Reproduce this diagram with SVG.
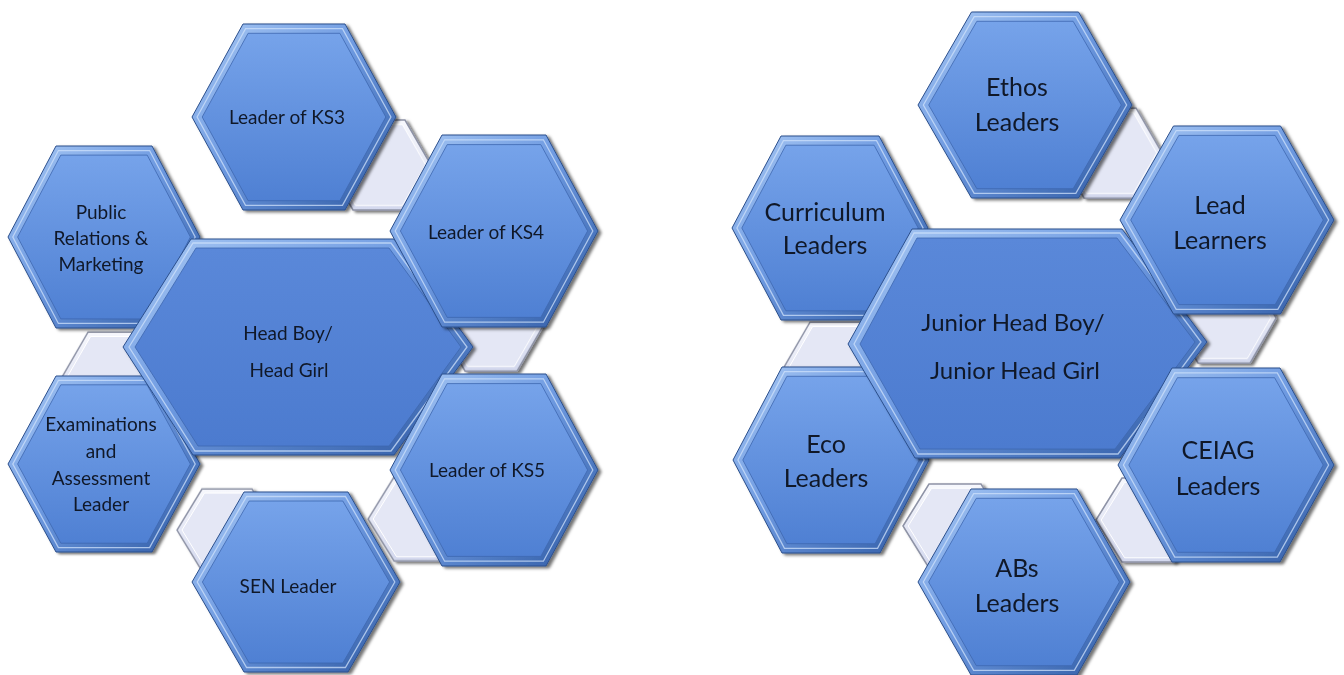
<svg xmlns="http://www.w3.org/2000/svg" xmlns:xlink="http://www.w3.org/1999/xlink" width="1344" height="675" viewBox="0 0 1344 675">
<defs>
  <linearGradient id="rimG" x1="0" y1="0" x2="1" y2="1">
    <stop offset="0" stop-color="#a9c9f4"/>
    <stop offset="0.45" stop-color="#6e9ae1"/>
    <stop offset="1" stop-color="#2f5aa3"/>
  </linearGradient>
  <linearGradient id="faceG" x1="0" y1="0" x2="0" y2="1">
    <stop offset="0" stop-color="#76a3ea"/>
    <stop offset="1" stop-color="#4f80d3"/>
  </linearGradient>
  <linearGradient id="centerG" x1="0" y1="0" x2="0" y2="1">
    <stop offset="0" stop-color="#5a88d9"/>
    <stop offset="1" stop-color="#4c7bcf"/>
  </linearGradient>
  <linearGradient id="connG" x1="0" y1="0" x2="0" y2="1">
    <stop offset="0" stop-color="#f7f8fd"/>
    <stop offset="1" stop-color="#d3d8ee"/>
  </linearGradient>
  <filter id="sh" x="-10%" y="-10%" width="130%" height="130%">
    <feDropShadow dx="3" dy="2" stdDeviation="1.5" flood-color="#000" flood-opacity="0.55"/>
  </filter>
  <polygon id="hx" points="-100,0 -50,-100 50,-100 100,0 50,100 -50,100" vector-effect="non-scaling-stroke"/>
  <polygon id="hxi" points="-90,0 -45,-90 45,-90 90,0 45,90 -45,90" vector-effect="non-scaling-stroke"/>
  <polygon id="hxh" points="-95,0 -47.5,-95 47.5,-95 95,0 47.5,95 -47.5,95" vector-effect="non-scaling-stroke"/>
  <style>
    .rim{fill:url(#rimG);stroke:#2b4f8c;stroke-width:1}
    .face{fill:url(#faceG);stroke:#3d67b0;stroke-width:0.8}
    .hl{fill:none;stroke:#cfe2fb;stroke-width:1.3;stroke-opacity:0.75}
    .cface{fill:url(#centerG);stroke:#3d67b0;stroke-width:0.8}
    .shadow{filter:url(#sh)}
    .conn{fill:url(#connG);stroke:#8e93a6;stroke-width:1.5}
    .connIn{fill:#e4e7f5;stroke:#ffffff;stroke-width:1}
    text{font-family:Lato,"Liberation Sans",Arial,sans-serif;fill:#101828;text-anchor:middle}
    .s{font-size:19px}
    .l{font-size:25px}
    .c{font-size:24px}
  </style>
</defs>
<rect width="1344" height="675" fill="#ffffff"/>

<g id="connectors">
  <g class="shadow">
    <use href="#hx" class="conn" transform="translate(379,165) scale(0.52,0.45)"/>
    <use href="#hx" class="conn" transform="translate(491,326) scale(0.52,0.45)"/>
    <use href="#hx" class="conn" transform="translate(114,377) scale(0.52,0.45)"/>
    <use href="#hx" class="conn" transform="translate(227,530) scale(0.50,0.41)"/>
    <use href="#hx" class="conn" transform="translate(420,519) scale(0.52,0.42)"/>
    <use href="#hx" class="conn" transform="translate(1110,153) scale(0.52,0.45)"/>
    <use href="#hx" class="conn" transform="translate(1224,318) scale(0.52,0.45)"/>
    <use href="#hx" class="conn" transform="translate(836,367) scale(0.52,0.45)"/>
    <use href="#hx" class="conn" transform="translate(955,526) scale(0.52,0.42)"/>
    <use href="#hx" class="conn" transform="translate(1148,520) scale(0.52,0.42)"/>
  </g>
  <use href="#hxi" class="connIn" transform="translate(379,165) scale(0.52,0.45)"/>
  <use href="#hxi" class="connIn" transform="translate(491,326) scale(0.52,0.45)"/>
  <use href="#hxi" class="connIn" transform="translate(114,377) scale(0.52,0.45)"/>
  <use href="#hxi" class="connIn" transform="translate(227,530) scale(0.50,0.41)"/>
  <use href="#hxi" class="connIn" transform="translate(420,519) scale(0.52,0.42)"/>
  <use href="#hxi" class="connIn" transform="translate(1110,153) scale(0.52,0.45)"/>
  <use href="#hxi" class="connIn" transform="translate(1224,318) scale(0.52,0.45)"/>
  <use href="#hxi" class="connIn" transform="translate(836,367) scale(0.52,0.45)"/>
  <use href="#hxi" class="connIn" transform="translate(955,526) scale(0.52,0.42)"/>
  <use href="#hxi" class="connIn" transform="translate(1148,520) scale(0.52,0.42)"/>
</g>

<!-- Left cluster -->
<g id="node-pr">
  <use href="#hx" class="rim shadow" transform="translate(104,237) scale(0.96,0.91)"/>
  <use href="#hxi" class="face" transform="translate(104,237) scale(0.96,0.91)"/>
  <use href="#hxh" class="hl" transform="translate(104,237) scale(0.96,0.91)"/>
  <text class="s" x="101" y="219">Public</text>
  <text class="s" x="101" y="245">Relations &amp;</text>
  <text class="s" x="101" y="271">Marketing</text>
</g>
<g id="node-exam">
  <use href="#hx" class="rim shadow" transform="translate(104,464) scale(0.96,0.88)"/>
  <use href="#hxi" class="face" transform="translate(104,464) scale(0.96,0.88)"/>
  <use href="#hxh" class="hl" transform="translate(104,464) scale(0.96,0.88)"/>
  <text class="s" x="101" y="431">Examinations</text>
  <text class="s" x="101" y="458">and</text>
  <text class="s" x="101" y="485">Assessment</text>
  <text class="s" x="101" y="511">Leader</text>
</g>
<g id="node-ks3">
  <use href="#hx" class="rim shadow" transform="translate(294,117) scale(1.02,0.93)"/>
  <use href="#hxi" class="face" transform="translate(294,117) scale(1.02,0.93)"/>
  <use href="#hxh" class="hl" transform="translate(294,117) scale(1.02,0.93)"/>
  <text class="s" x="287" y="124">Leader of KS3</text>
</g>
<g id="node-sen">
  <use href="#hx" class="rim shadow" transform="translate(296,582) scale(1.04,0.90)"/>
  <use href="#hxi" class="face" transform="translate(296,582) scale(1.04,0.90)"/>
  <use href="#hxh" class="hl" transform="translate(296,582) scale(1.04,0.90)"/>
  <text class="s" x="288" y="593">SEN Leader</text>
</g>
<g id="node-head">
  <polygon class="rim shadow" points="123,347 191,239 394,239 473,347 394,455 193,455"/>
  <polygon class="cface" points="135,347 196,248 389,248 461,347 389,446 198,446"/>
  <polygon class="hl" points="129,347 193,243 391,243 467,347 391,451 195,451"/>
  <text class="s" x="288" y="340">Head Boy/</text>
  <text class="s" x="289" y="377">Head Girl</text>
</g>
<g id="node-ks4">
  <use href="#hx" class="rim shadow" transform="translate(494,231) scale(1.04,0.96)"/>
  <use href="#hxi" class="face" transform="translate(494,231) scale(1.04,0.96)"/>
  <use href="#hxh" class="hl" transform="translate(494,231) scale(1.04,0.96)"/>
  <text class="s" x="486" y="239">Leader of KS4</text>
</g>
<g id="node-ks5">
  <use href="#hx" class="rim shadow" transform="translate(494,470) scale(1.04,0.96)"/>
  <use href="#hxi" class="face" transform="translate(494,470) scale(1.04,0.96)"/>
  <use href="#hxh" class="hl" transform="translate(494,470) scale(1.04,0.96)"/>
  <text class="s" x="487" y="477">Leader of KS5</text>
</g>

<!-- Right cluster -->
<g id="node-curriculum">
  <use href="#hx" class="rim shadow" transform="translate(830,228) scale(0.98,0.92)"/>
  <use href="#hxi" class="face" transform="translate(830,228) scale(0.98,0.92)"/>
  <use href="#hxh" class="hl" transform="translate(830,228) scale(0.98,0.92)"/>
  <text class="l" x="825" y="221">Curriculum</text>
  <text class="l" x="825" y="254">Leaders</text>
</g>
<g id="node-eco">
  <use href="#hx" class="rim shadow" transform="translate(831,460) scale(0.98,0.93)"/>
  <use href="#hxi" class="face" transform="translate(831,460) scale(0.98,0.93)"/>
  <use href="#hxh" class="hl" transform="translate(831,460) scale(0.98,0.93)"/>
  <text class="l" x="826" y="453">Eco</text>
  <text class="l" x="826" y="487">Leaders</text>
</g>
<g id="node-ethos">
  <use href="#hx" class="rim shadow" transform="translate(1025,105) scale(1.07,0.93)"/>
  <use href="#hxi" class="face" transform="translate(1025,105) scale(1.07,0.93)"/>
  <use href="#hxh" class="hl" transform="translate(1025,105) scale(1.07,0.93)"/>
  <text class="l" x="1017" y="96">Ethos</text>
  <text class="l" x="1017" y="131">Leaders</text>
</g>
<g id="node-abs">
  <use href="#hx" class="rim shadow" transform="translate(1024,582) scale(1.06,0.93)"/>
  <use href="#hxi" class="face" transform="translate(1024,582) scale(1.06,0.93)"/>
  <use href="#hxh" class="hl" transform="translate(1024,582) scale(1.06,0.93)"/>
  <text class="l" x="1017" y="577">ABs</text>
  <text class="l" x="1017" y="612">Leaders</text>
</g>
<g id="node-junior">
  <polygon class="rim shadow" points="848,344 912,229 1122,229 1207,342 1120,458 915,458"/>
  <polygon class="cface" points="860,344 917,238 1117,238 1195,342 1115,449 920,449"/>
  <polygon class="hl" points="854,344 914,233 1120,233 1201,342 1118,454 918,454"/>
  <text class="c" x="1013" y="331">Junior Head Boy/</text>
  <text class="c" x="1015" y="379">Junior Head Girl</text>
</g>
<g id="node-lead">
  <use href="#hx" class="rim shadow" transform="translate(1227,220) scale(1.07,0.94)"/>
  <use href="#hxi" class="face" transform="translate(1227,220) scale(1.07,0.94)"/>
  <use href="#hxh" class="hl" transform="translate(1227,220) scale(1.07,0.94)"/>
  <text class="l" x="1220" y="214">Lead</text>
  <text class="l" x="1220" y="249">Learners</text>
</g>
<g id="node-ceiag">
  <use href="#hx" class="rim shadow" transform="translate(1226,465) scale(1.08,0.97)"/>
  <use href="#hxi" class="face" transform="translate(1226,465) scale(1.08,0.97)"/>
  <use href="#hxh" class="hl" transform="translate(1226,465) scale(1.08,0.97)"/>
  <text class="l" x="1218" y="459">CEIAG</text>
  <text class="l" x="1218" y="495">Leaders</text>
</g>
</svg>
